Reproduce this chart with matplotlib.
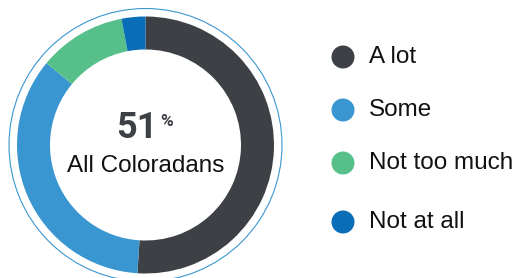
import matplotlib.pyplot as plt
from matplotlib.patches import Circle

labels = ["A lot", "Some", "Not too much", "Not at all"]
values = [51, 35, 11, 3]
colors = ["#3d4145", "#3a96d1", "#56bf8a", "#0a6db8"]
headline = "51"
group = "All Coloradans"

fig = plt.figure(figsize=(5.2, 2.78), dpi=100)
ax = fig.add_axes([0, 0, 1, 1])

cx, cy = 145.5, 133
ax.pie(values, colors=colors, startangle=90, counterclock=False,
       center=(cx, cy), radius=128.5,
       wedgeprops=dict(width=33, linewidth=0))
ax.set_xlim(0, 520)
ax.set_ylim(0, 278)
ax.set_aspect("equal")
ax.axis("off")

# thin ring around the donut
ax.add_patch(Circle((cx, cy), 136.5, fill=False, edgecolor="#3a96d1", linewidth=0.8))

ax.text(cx - 9, 150, headline, ha="center", va="center", fontsize=26,
        fontweight="bold", family="Roboto", color="#3d4145")
ax.text(cx + 21, 157, "%", ha="center", va="center", fontsize=12.5,
        fontweight="bold", family="Roboto", color="#3d4145")
ax.text(cx, 112, group, ha="center", va="center", fontsize=17.5,
        family="Liberation Sans", color="#111111")

ys = [221, 168, 115, 56]
for lab, col, y in zip(labels, colors, ys):
    ax.add_patch(Circle((343, y), 11.5, color=col, linewidth=0))
    ax.text(369, y, lab, ha="left", va="center", fontsize=17.5,
            family="Liberation Sans", color="#111111")

fig.savefig("out.png", dpi=100)
